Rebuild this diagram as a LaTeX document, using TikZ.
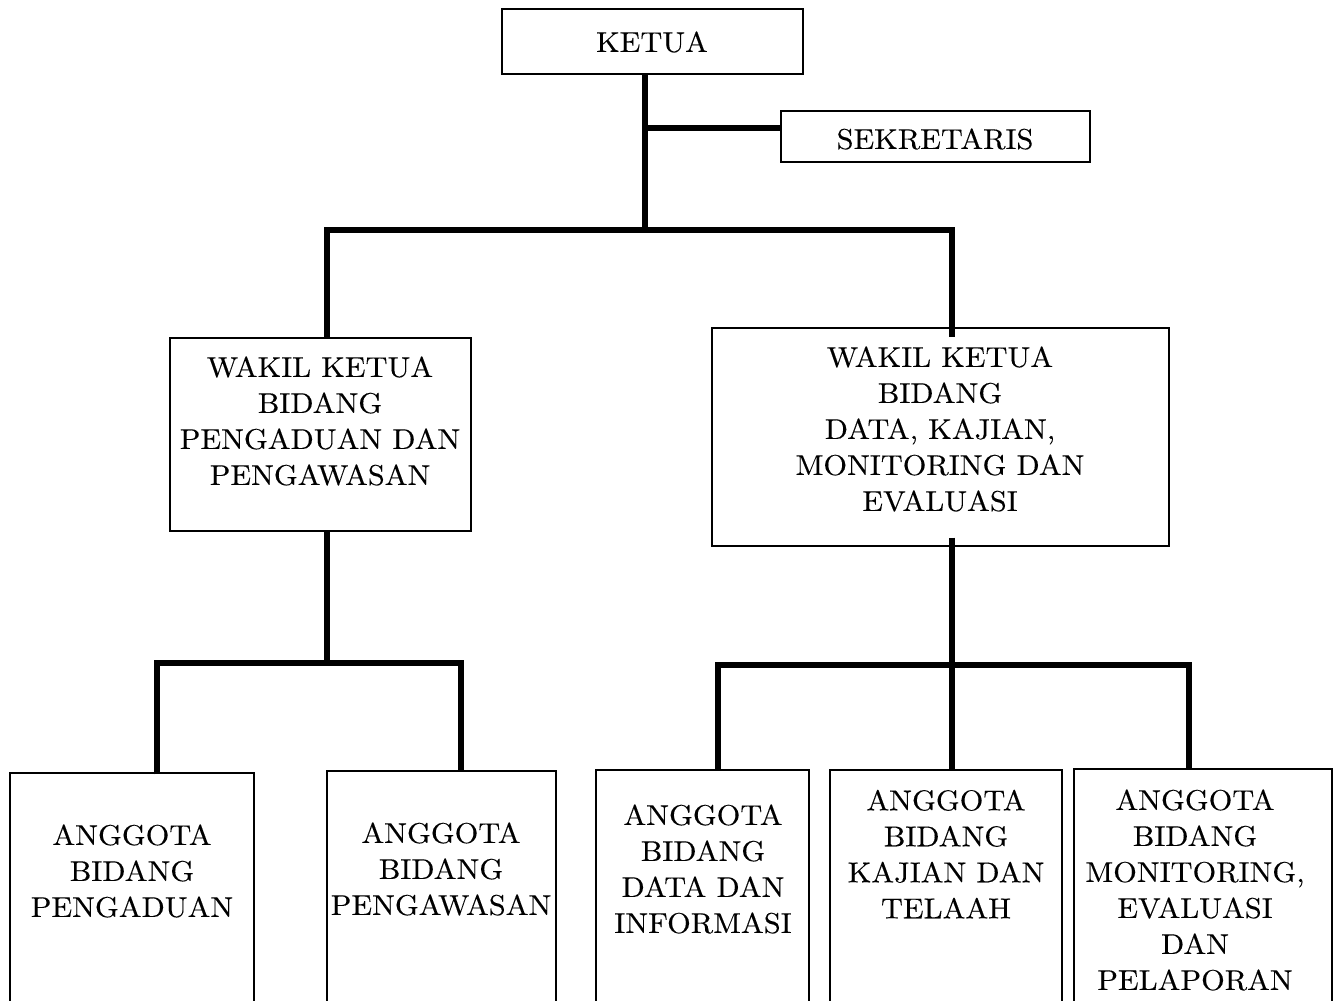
\documentclass[tikz,border=0pt]{standalone}
\usepackage{fontspec}
\setmainfont{lmroman10-regular}[Extension=.otf,FakeStretch=1.06,FakeBold=0.2]
\begin{document}
\begin{tikzpicture}[x=0.75pt,y=-0.75pt,
  box/.style={draw,line width=0.9pt,inner sep=0pt},
  link/.style={line width=3.8pt},
  lbl/.style={align=center,inner sep=0pt,font=\fontsize{21.5}{27}\selectfont}]
\useasboundingbox (0,0) rectangle (1338,1000);
\clip (0,0) rectangle (1338,1000);

\newcommand{\orgbox}[5]{
  \node[box,minimum width={(#4-#2)*0.75pt},minimum height={(#5-#3)*0.75pt}]
    (#1) at ({(#2+#4)/2},{(#3+#5)/2}) {};
}

% boxes
\orgbox{ketua}{502}{9}{803}{74}
\orgbox{sekretaris}{781}{111}{1090}{162}
\orgbox{wk1}{170}{338}{471}{531}
\orgbox{wk2}{712}{328}{1169}{546}
\orgbox{a1}{10}{773}{254}{1010}
\orgbox{a2}{327}{771}{556}{1010}
\orgbox{a3}{596}{770}{809}{1010}
\orgbox{a4}{830}{770}{1062}{1010}
\orgbox{a5}{1074}{769}{1332}{1010}

% texts
\node[lbl] (ketua-txt) at (652,42) {KETUA};
\node[lbl] (sekretaris-txt) at (935,139) {SEKRETARIS};
\node[lbl] (wk1-txt) at (320,421) {WAKIL KETUA\\BIDANG\\PENGADUAN DAN\\PENGAWASAN};
\node[lbl] (wk2-txt) at (940,429) {WAKIL KETUA\\BIDANG\\DATA, KAJIAN,\\MONITORING DAN\\EVALUASI};
\node[lbl] (a1-txt) at (132,871) {ANGGOTA\\BIDANG\\PENGADUAN};
\node[lbl] (a2-txt) at (441,869) {ANGGOTA\\BIDANG\\PENGAWASAN};
\node[lbl] (a3-txt) at (703,869) {ANGGOTA\\BIDANG\\DATA DAN\\INFORMASI};
\node[lbl] (a4-txt) at (946,854) {ANGGOTA\\BIDANG\\KAJIAN DAN\\TELAAH};
\node[lbl] (a5-txt) at (1195,890) {ANGGOTA\\BIDANG\\MONITORING,\\EVALUASI\\DAN\\PELAPORAN};

% joints
\coordinate (top) at (645,230);
\coordinate (sekj) at (645,128);
\coordinate (topL) at (327,230);
\coordinate (topR) at (952,230);
\coordinate (midL) at (327,663);
\coordinate (botLa) at (157,663);
\coordinate (botLb) at (461,663);
\coordinate (midR) at (952,665);
\coordinate (botRa) at (718,665);
\coordinate (botRb) at (1189,665);

% connectors
\draw[link] (ketua.south -| top) -- (top);
\draw[link] (sekj) -- (sekj -| sekretaris.west);
\draw[link] (topL |- wk1.north) -- (topL) -- (topR) -- ([yshift=-7.5pt]topR |- wk2.north);

\draw[link] (wk1.south -| midL) -- (midL);
\draw[link] ([yshift=-1.5pt]botLa |- a1.north) -- (botLa) -- (botLb) -- (botLb |- a2.north);

\draw[link] ([yshift=6.75pt]midR |- wk2.south) -- ([yshift=-1.5pt]midR |- a4.north);
\draw[link] (botRa |- a3.north) -- (botRa) -- (botRb) -- (botRb |- a5.north);

\end{tikzpicture}
\end{document}
